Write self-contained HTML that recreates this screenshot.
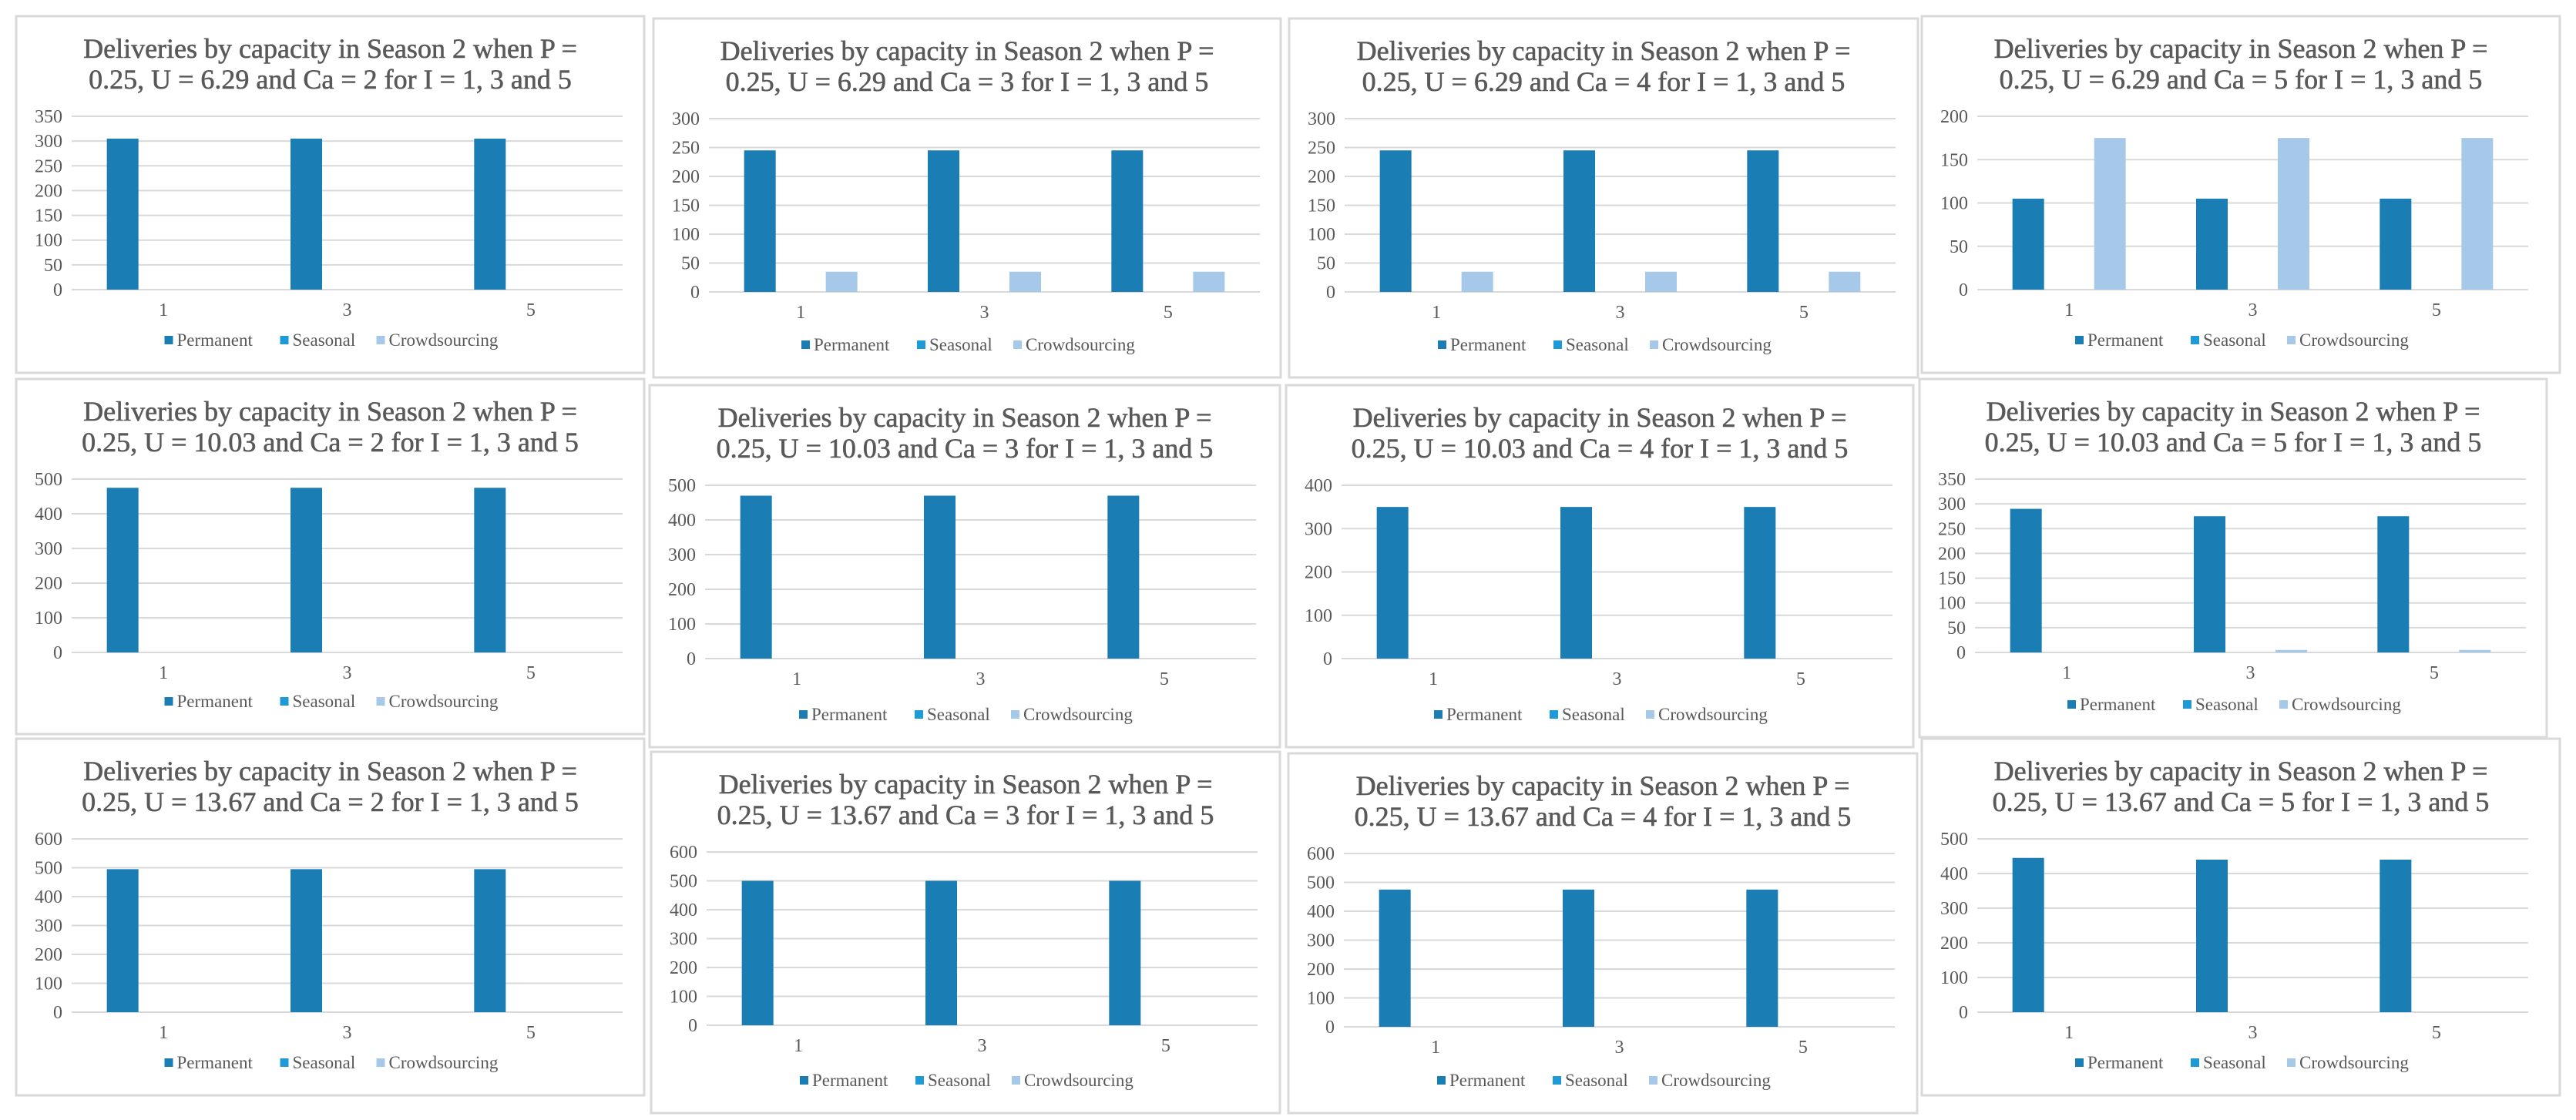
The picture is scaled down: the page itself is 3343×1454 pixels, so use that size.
<!DOCTYPE html>
<html><head><meta charset="utf-8">
<style>
body{margin:0;width:3343px;height:1454px;background:#fff;overflow:hidden;font-family:"Liberation Serif",serif;}
svg{position:absolute;left:0;top:0}
</style></head>
<body>
<svg id="chart" width="3343" height="1454" viewBox="0 0 3343 1454"></svg>
<script>
const categories = ["1","3","5"];
const seriesNames = ["Permanent","Seasonal","Crowdsourcing"];
const uValues = ["6.29","10.03","13.67"];
const caValues = ["2","3","4","5"];
// permanent values per panel [row][col][category]
const permanent = [
 [[305,305,305],[245,245,245],[245,245,245],[105,105,105]],
 [[475,475,475],[470,470,470],[350,350,350],[290,275,275]],
 [[495,495,495],[500,500,500],[475,475,475],[445,440,440]]
];
const seasonal = [
 [[0,0,0],[0,0,0],[0,0,0],[0,0,0]],
 [[0,0,0],[0,0,0],[0,0,0],[0,0,0]],
 [[0,0,0],[0,0,0],[0,0,0],[0,0,0]]
];
const crowdsourcing = [
 [[0,0,0],[35,35,35],[35,35,35],[175,175,175]],
 [[0,0,0],[0,0,0],[0,0,0],[0,5,5]],
 [[0,0,0],[0,0,0],[0,0,0],[0,0,0]]
];
const axisMax = [[350,300,300,200],[500,500,400,350],[600,600,600,500]];
const axisStep = [[50,50,50,50],[100,100,100,50],[100,100,100,100]];

const rects = [
 [[21,21,815,463],[848,24,814,466],[1673,24,816,466],[2494,21,828,463]],
 [[21,492,815,461],[843,500,818,470],[1669,500,814,470],[2491,492,814,465]],
 [[21,959,815,463],[845,976,816,469],[1672,978,816,467],[2494,959,828,463]]
];
const colors = ["#1a7db3","#1e9ad6","#a7c9e9"];
const NS="http://www.w3.org/2000/svg";
const svg=document.getElementById('chart');
function mk(tag,attrs,parent){const e=document.createElementNS(NS,tag);for(const k in attrs)e.setAttribute(k,attrs[k]);parent.appendChild(e);return e;}

for(let r=0;r<3;r++)for(let c=0;c<4;c++){
 const [px,py,pw,ph]=rects[r][c];
 const g=mk('g',{transform:`translate(${px},${py})`},svg);
 
 
 const bg=mk('rect',{x:0,y:0,width:pw,height:ph,fill:'#fff',stroke:'#d9d9d9','stroke-width':3},g);
 
 
 const t=mk('text',{x:pw/2,y:54,'text-anchor':'middle','font-size':36,fill:'#595959','stroke':'#595959','stroke-width':0.6,'font-family':'Liberation Serif, serif'},g);
 
 
 const t1=mk('tspan',{x:pw/2,dy:0},t);t1.textContent='Deliveries by capacity in Season 2 when P =';
 const t2=mk('tspan',{x:pw/2,dy:40},t);t2.textContent=`0.25, U = ${uValues[r]} and Ca = ${caValues[c]} for I = 1, 3 and 5`;
 const L=72,R=787,T=130,B=355;
 const max=axisMax[r][c],step=axisStep[r][c];
 const y=v=>B-(v/max)*(B-T);
 for(let v=0;v<=max;v+=step){
  const gl=mk('line',{x1:L,x2:R,y1:y(v),y2:y(v),stroke:'#d9d9d9','stroke-width':2},g);
  
  
  const tl=mk('text',{x:L-12,y:y(v)+8,'text-anchor':'end','font-size':24,fill:'#595959'},g);
  
  
  tl.textContent=v;
 }
 const cw=(R-L)/categories.length;
 const data=[permanent[r][c],seasonal[r][c],crowdsourcing[r][c]];
 categories.forEach((cat,i)=>{
  const cx=L+cw*(i+0.5);
  data.forEach((s,k)=>{
   const bx=cx+(k-1)*53-20.5;
   const b=mk('rect',{x:bx,y:y(s[i]),width:41,height:B-y(s[i]),fill:colors[k]},g);
   
   
  });
  const xl=mk('text',{x:cx,y:B+34,'text-anchor':'middle','font-size':24,fill:'#595959'},g);
  
  
  xl.textContent=cat;
 });
 const lg=mk('g',{},g);
 
 
 const lx=[pw/2-215,pw/2-65,pw/2+60];
 seriesNames.forEach((n,k)=>{
  const e=mk('g',{},lg);
  
  
  mk('rect',{x:lx[k],y:ph-48,width:11,height:11,fill:colors[k]},e);
  const tx=mk('text',{x:lx[k]+16,y:ph-35,'font-size':23,fill:'#595959'},e);
  tx.textContent=n;
 });
}
</script>
</body></html>
